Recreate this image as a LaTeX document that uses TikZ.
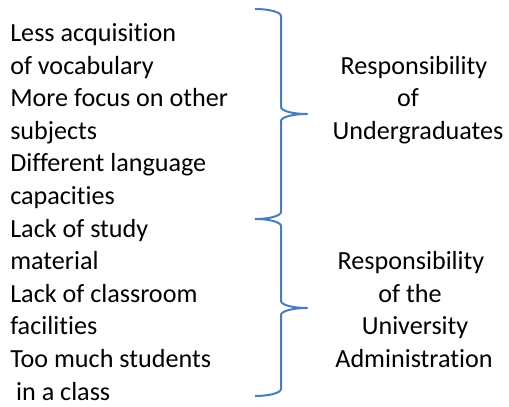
\documentclass[tikz,border=0pt]{standalone}
\usepackage{fontspec}
\setmainfont{Carlito}[Ligatures=CommonOff]

\definecolor{braceblue}{RGB}{74,126,187}

\tikzset{
  cause/.style={anchor=base west, inner sep=0pt, font=\fontsize{19.6}{24}\selectfont},
  party/.style={anchor=base, inner sep=0pt, font=\fontsize{19.6}{24}\selectfont},
  bracket/.style={draw=braceblue, line width=1.5pt, line join=round}
}

\begin{document}
\begin{tikzpicture}[x=0.75pt, y=0.75pt]
            \useasboundingbox (0,0) rectangle (509,406);

            % Causes, one line each
            \foreach \t [count=\i] in {Less acquisition, of vocabulary,
                More focus on other, subjects, Different language, capacities,
                Lack of study, material, Lack of classroom, facilities,
                Too much students, {\ in a class}}
                \node[cause] (c\i) at (10, {364.5-(\i-1)*32.6}) {\t};

            % Braces
            \draw[bracket] (255,397) arc[start angle=90, end angle=0, x radius=26, y radius=7]
                -- (281,299) arc[start angle=180, end angle=270, x radius=26, y radius=7]
                arc[start angle=90, end angle=180, x radius=26, y radius=7]
                -- (281,194) arc[start angle=0, end angle=-90, x radius=26, y radius=7]; % (b1)
            \draw[bracket] (255,187) arc[start angle=90, end angle=0, x radius=26, y radius=7]
                -- (281,105) arc[start angle=180, end angle=270, x radius=26, y radius=7]
                arc[start angle=90, end angle=180, x radius=26, y radius=7]
                -- (281,17) arc[start angle=0, end angle=-90, x radius=26, y radius=7]; % (b2)

            % Who is responsible
            \node[party] (u1) at (414,331.9) {Responsibility};
            \node[party] (u2) at (408,299.3) {of};
            \node[party] (u3) at (418,266.7) {Undergraduates};

            \node[party] (a1) at (411,136.3) {Responsibility};
            \node[party] (a2) at (410,103.7) {of the};
            \node[party] (a3) at (415,71.1) {University};
            \node[party] (a4) at (414,38.5) {Administration};
        \end{tikzpicture}
\end{document}
